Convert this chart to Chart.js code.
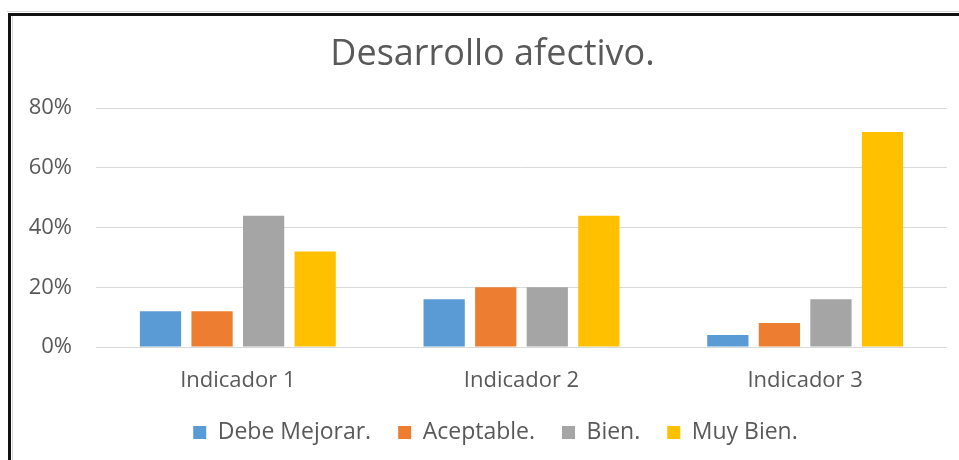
<!DOCTYPE html>
<html>
<head>
<meta charset="utf-8">
<script src="https://cdn.jsdelivr.net/npm/chart.js@4"></script>
<style>
  body { margin: 0; background: #fff; }
  #wrap { position: relative; width: 959px; height: 460px; overflow: hidden; }
  canvas { position: absolute; left: 0; top: 0; }
  .line { position: absolute; }
</style>
</head>
<body>
<div id="wrap">
  <div class="line" style="left:7px;top:11px;width:952px;height:1px;background:#d6d6d6"></div>
  <div class="line" style="left:8px;top:13px;width:951px;height:3px;background:#111"></div>
  <div class="line" style="left:8px;top:13px;width:3px;height:447px;background:#111"></div>
  <div class="line" style="left:12px;top:16px;width:1px;height:444px;background:#d6d6d6"></div>
  <canvas id="chart" width="959" height="460"></canvas>
</div>
<script>
const categories = ['Indicador 1', 'Indicador 2', 'Indicador 3'];
const seriesNames = ['Debe Mejorar.', 'Aceptable.', 'Bien.', 'Muy Bien.'];
const debeMejorar = [0.12, 0.16, 0.04];
const aceptable = [0.12, 0.20, 0.08];
const bien = [0.44, 0.20, 0.16];
const muyBien = [0.32, 0.44, 0.72];
const colors = ['#5b9bd5', '#ed7d31', '#a5a5a5', '#ffc000'];

const textColor = '#595959';
const fontFamily = '"Open Sans", Lato, sans-serif';

const datasets = [debeMejorar, aceptable, bien, muyBien].map(function(values, i) {
    return {
        label: seriesNames[i],
        data: values,
        backgroundColor: colors[i],
        borderWidth: 0,
        categoryPercentage: 0.727,
        barPercentage: 0.8
    };
});

// title and legend sit a little right of the canvas centre in the original
const nudgeBoxes = {
    id: 'nudgeBoxes',
    afterLayout: function(chart) {
        if (chart.titleBlock) { chart.titleBlock.left += 13; chart.titleBlock.right += 13; }
        if (chart.legend) { chart.legend.left += 16; chart.legend.right += 16; }
    }
};

new Chart(document.getElementById('chart'), {
    type: 'bar',
    data: { labels: categories, datasets: datasets },
    plugins: [nudgeBoxes],
    options: {
        responsive: false,
        animation: false,
        layout: { padding: { left: 12, right: 12, top: 0, bottom: 6 } },
        plugins: {
            title: {
                display: true,
                text: 'Desarrollo afectivo.',
                color: textColor,
                font: { family: fontFamily, size: 36, weight: '400' },
                padding: { top: 33, bottom: 32 }
            },
            legend: {
                position: 'bottom',
                labels: {
                    color: textColor,
                    font: { family: fontFamily, size: 23 },
                    boxWidth: 13,
                    boxHeight: 13,
                    padding: 27
                }
            },
            tooltip: { enabled: false }
        },
        scales: {
            x: {
                grid: { display: false },
                border: { display: false },
                afterFit: function(scale) { scale.height = 47; },
                ticks: {
                    color: textColor,
                    font: { family: fontFamily, size: 22 },
                    padding: 13
                }
            },
            y: {
                min: 0,
                max: 0.8,
                afterFit: function(scale) { scale.width = 84; },
                border: { display: false },
                grid: { color: '#d9d9d9', lineWidth: 1, drawTicks: false },
                ticks: {
                    stepSize: 0.2,
                    color: textColor,
                    font: { family: fontFamily, size: 22 },
                    padding: 24,
                    callback: function(v) { return Math.round(v * 100) + '%'; }
                }
            }
        }
    }
});
</script>
</body>
</html>
